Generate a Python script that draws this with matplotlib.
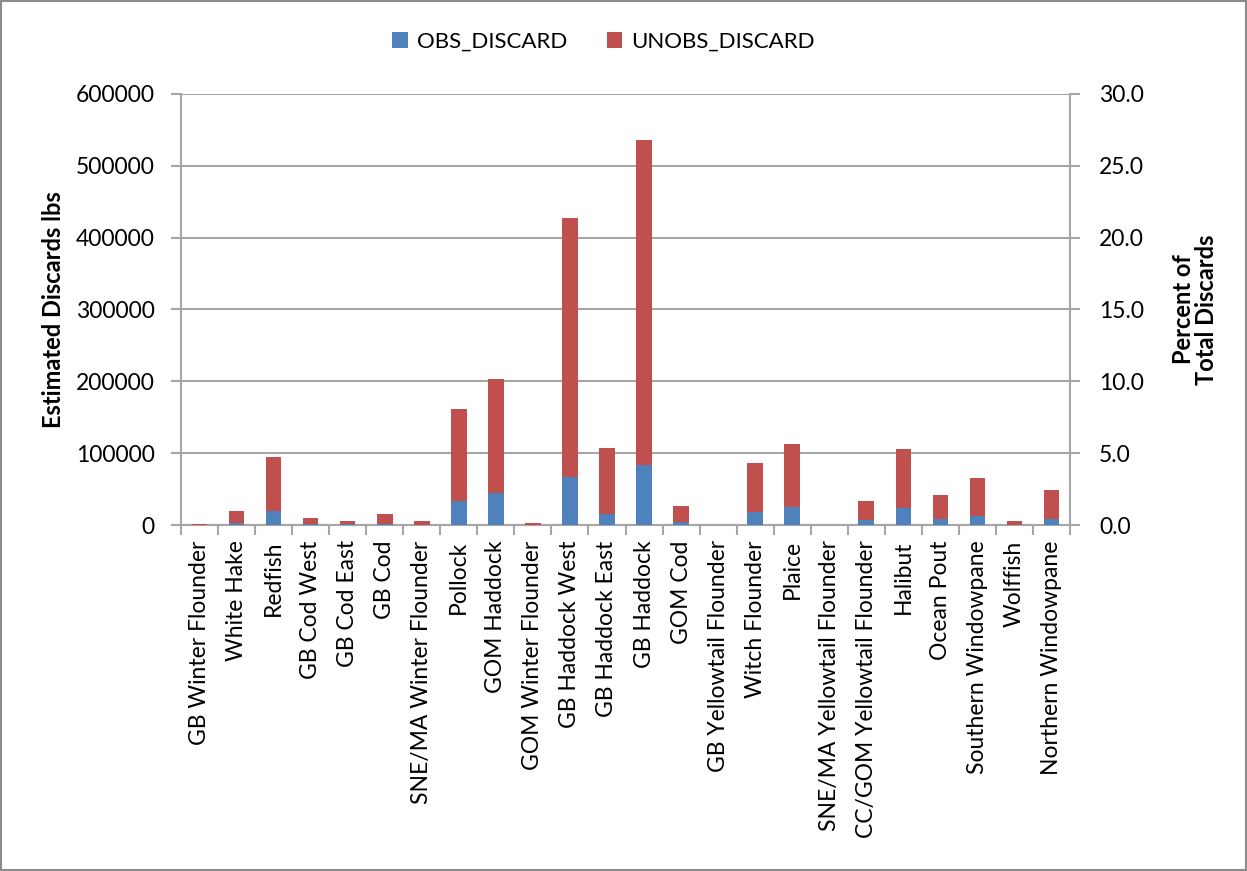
import matplotlib
matplotlib.use('Agg')
import matplotlib.pyplot as plt
import matplotlib.patches as mpatches
from matplotlib.ticker import FixedLocator, FormatStrFormatter
import numpy as np

plt.rcParams['font.family'] = ['Lato', 'DejaVu Sans']

# species / stock names
species = ['GB Winter Flounder', 'White Hake', 'Redfish', 'GB Cod West', 'GB Cod East',
           'GB Cod', 'SNE/MA Winter Flounder', 'Pollock', 'GOM Haddock',
           'GOM Winter Flounder', 'GB Haddock West', 'GB Haddock East', 'GB Haddock',
           'GOM Cod', 'GB Yellowtail Flounder', 'Witch Flounder', 'Plaice',
           'SNE/MA Yellowtail Flounder', 'CC/GOM Yellowtail Flounder', 'Halibut',
           'Ocean Pout', 'Southern Windowpane', 'Wolffish', 'Northern Windowpane']

# observed discards (lbs)
obs_discard = [300, 2800, 19500, 1800, 800, 1800, 500, 33300, 44400, 300, 66700,
               15700, 83300, 4200, 0, 18000, 25000, 0, 7400, 24000, 8300, 13000,
               500, 8300]
# unobserved discards (lbs), stacked on top of observed
unobs_discard = [1200, 16600, 75000, 7900, 4800, 13500, 5100, 128200, 158600, 2500,
                 361300, 91300, 452000, 22200, 0, 68100, 87500, 0, 25900, 81600,
                 33400, 52300, 5100, 40300]

blue = '#4F81BD'
red = '#C0504D'
grid_col = '#A6A6A6'

fig = plt.figure(figsize=(12.47, 8.71), dpi=100)
ax = fig.add_axes([181/1247, 1 - 525/871, (1070 - 181)/1247, (525 - 94)/871])

x = np.arange(len(species))
ax.bar(x, obs_discard, width=0.42, color=blue, label='OBS_DISCARD', zorder=3)
ax.bar(x, unobs_discard, width=0.42, bottom=obs_discard, color=red,
       label='UNOBS_DISCARD', zorder=3)

ax.set_xlim(-0.5, len(species) - 0.5)
ax.set_ylim(0, 600000)
ax.set_yticks(np.arange(0, 600001, 100000))
ax.yaxis.grid(True, color=grid_col, linewidth=1.5, zorder=0)
ax.set_axisbelow(True)

ax.set_xticks(x)
ax.set_xticklabels(species, rotation=90, fontsize=16.5)
ax.xaxis.set_minor_locator(FixedLocator(np.arange(-0.5, len(species), 1)))
ax.tick_params(axis='x', which='major', length=0, pad=11)
ax.tick_params(axis='x', which='minor', length=7, width=1.5, color=grid_col)
ax.tick_params(axis='y', length=7, width=1.5, color=grid_col, labelsize=16.5, pad=12)

for side in ['top', 'right']:
    ax.spines[side].set_visible(False)
for side in ['left', 'bottom']:
    ax.spines[side].set_color(grid_col)
    ax.spines[side].set_linewidth(1.5)

ax.set_ylabel('Estimated Discards lbs', fontsize=17, fontweight='bold', labelpad=8)

# right axis: percent of total discards
ax2 = ax.twinx()
ax2.set_ylim(0, 30)
ax2.set_yticks(np.arange(0, 30.1, 5))
ax2.yaxis.set_major_formatter(FormatStrFormatter('%.1f'))
ax2.tick_params(axis='y', length=7, width=1.5, color=grid_col, labelsize=16.5, pad=14)
for side in ['top', 'left', 'bottom']:
    ax2.spines[side].set_visible(False)
ax2.spines['right'].set_color(grid_col)
ax2.spines['right'].set_linewidth(1.5)
ax2.set_ylabel('Percent of\nTotal Discards', fontsize=17, fontweight='bold', labelpad=20,
               linespacing=1.0)

handles, labels = ax.get_legend_handles_labels()
fig.legend(handles, labels, loc='center', bbox_to_anchor=(0.484, 0.952), ncol=2,
           frameon=False, fontsize=16, handlelength=0.7, handleheight=0.7,
           handletextpad=0.4, columnspacing=1.8)

# chart border
fig.patches.append(mpatches.Rectangle((0.001, 0.001), 0.998, 0.998, transform=fig.transFigure,
                                      fill=False, edgecolor='#8C8C8C', linewidth=1.5))

fig.savefig('out.png', dpi=100)
